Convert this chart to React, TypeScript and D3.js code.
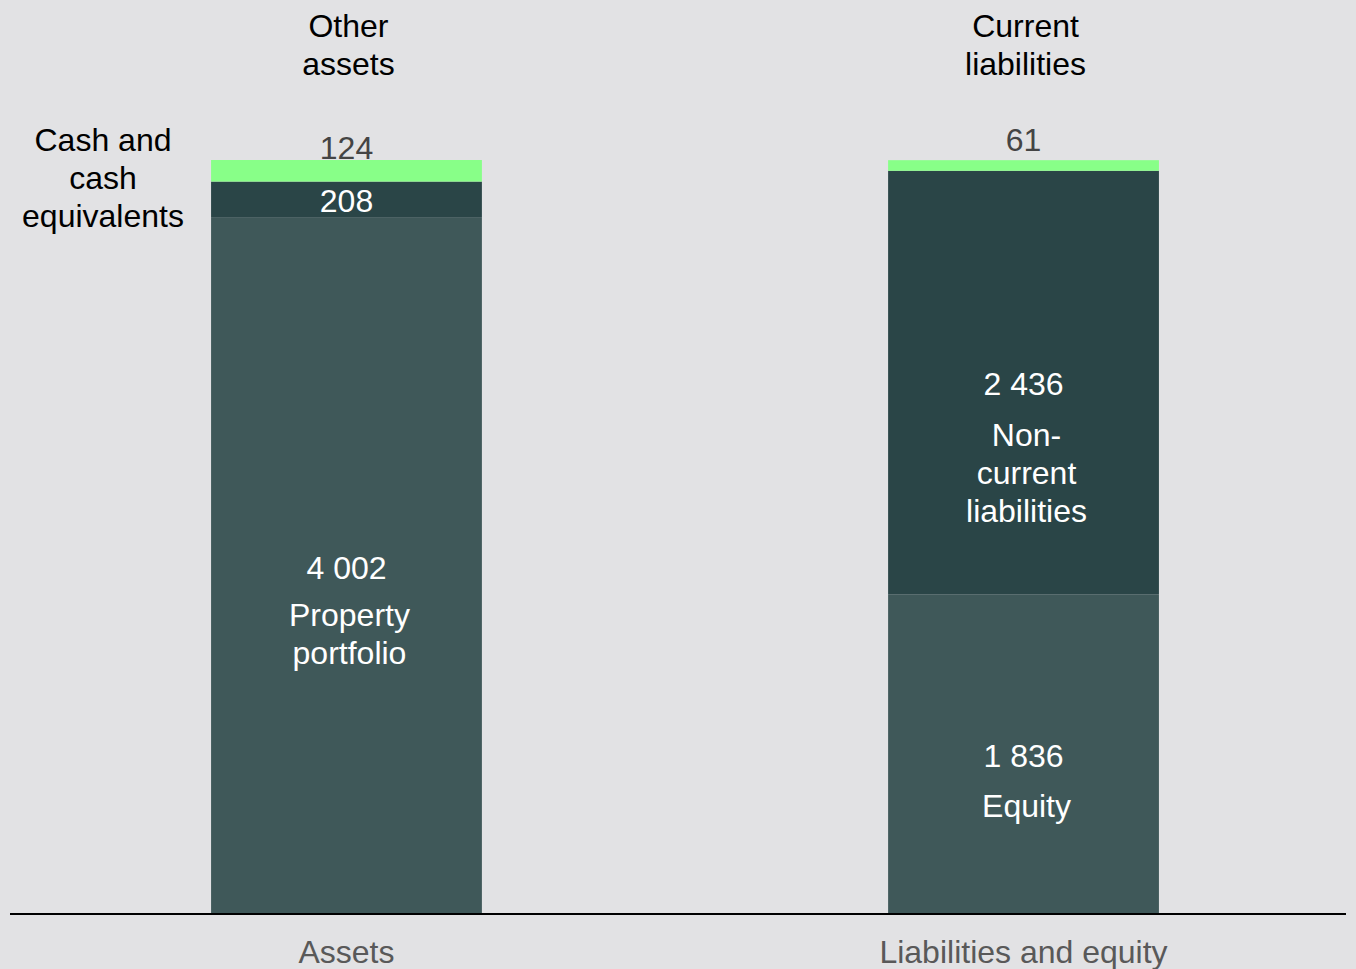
import React from "react";
import * as d3 from "d3";

const categories = ["Assets", "Liabilities and equity"];
const segmentKeys = ["base", "middle", "top"];
const assetsValues = [4002, 208, 124];
const liabilityValues = [1836, 2436, 61];
const valueLabels = [
  ["4 002", "208", "124"],
  ["1 836", "2 436", "61"],
];
const segmentNames = [
  [["Property", "portfolio"], [], []],
  [["Equity"], ["Non-", "current", "liabilities"], []],
];
const topNames = [["Other", "assets"], ["Current", "liabilities"]];
const sideName = ["Cash and", "cash", "equivalents"];

const W = 1356;
const H = 969;
const colors = ["#3f5859", "#2a4547", "#88ff88"];
const FONT = "Liberation Sans, Arial, sans-serif";

export default function App() {
  const series = [assetsValues, liabilityValues];
  const totals = series.map((s) => d3.sum(s));
  const x = d3
    .scaleBand<string>()
    .domain(categories)
    .range([10, 1360])
    .paddingInner(0.6)
    .paddingOuter(0.297);
  const y = d3.scaleLinear().domain([0, d3.max(totals)!]).range([914, 160]);

  const stacks = series.map((vals) => {
    let acc = 0;
    return vals.map((v, i) => {
      const s = { key: segmentKeys[i], y0: acc, y1: acc + v, v };
      acc += v;
      return s;
    });
  });

  const fs = 32;
  const lh = 38;
  const topValueOffset = [12, 20];
  const nameOffset = [49, 52];

  return (
    <svg
      width={W}
      height={H}
      style={{ position: "absolute", left: 0, top: 0, background: "#e2e2e4" }}
      fontFamily={FONT}
    >
      <rect x={0} y={0} width={W} height={H} fill="#e2e2e4" />
      {categories.map((c, ci) => {
        const bx = x(c)!;
        const bw = x.bandwidth();
        const cx = bx + bw / 2;
        return (
          <g key={c}>
            {stacks[ci].map((s, si) => (
              <rect
                key={s.key}
                x={bx}
                y={y(s.y1)}
                width={bw}
                height={y(s.y0) - y(s.y1)}
                fill={colors[si]}
              />
            ))}
            {stacks[ci].map((s, si) => {
              if (si === 2) {
                return (
                  <text
                    key={"v" + si}
                    x={cx}
                    y={y(s.y1) - topValueOffset[ci]}
                    dy="0.35em"
                    textAnchor="middle"
                    fontSize={fs}
                    fill="#444444"
                  >
                    {valueLabels[ci][si]}
                  </text>
                );
              }
              const mid = (y(s.y0) + y(s.y1)) / 2;
              const names = segmentNames[ci][si];
              return (
                <g key={"v" + si}>
                  <text
                    x={cx}
                    y={mid + (si === 0 ? 2 : 1)}
                    dy="0.35em"
                    textAnchor="middle"
                    fontSize={fs}
                    fill="#ffffff"
                  >
                    {valueLabels[ci][si]}
                  </text>
                  {names.map((n, ni) => (
                    <text
                      key={n}
                      x={cx + 3}
                      y={mid + nameOffset[ci] + ni * lh}
                      dy="0.35em"
                      textAnchor="middle"
                      fontSize={fs}
                      fill="#ffffff"
                    >
                      {n}
                    </text>
                  ))}
                </g>
              );
            })}
            {topNames[ci].map((n, ni) => (
              <text
                key={n}
                x={cx + 2}
                y={26 + ni * lh}
                dy="0.35em"
                textAnchor="middle"
                fontSize={fs}
                fill="#000000"
              >
                {n}
              </text>
            ))}
            <text
              x={cx}
              y={952}
              dy="0.35em"
              textAnchor="middle"
              fontSize={fs}
              fill="#595959"
            >
              {c}
            </text>
          </g>
        );
      })}
      {sideName.map((n, ni) => (
        <text
          key={n}
          x={103}
          y={140 + ni * lh}
          dy="0.35em"
          textAnchor="middle"
          fontSize={fs}
          fill="#000000"
        >
          {n}
        </text>
      ))}
      <line x1={10} x2={1346} y1={914} y2={914} stroke="#000" strokeWidth={2} />
    </svg>
  );
}
